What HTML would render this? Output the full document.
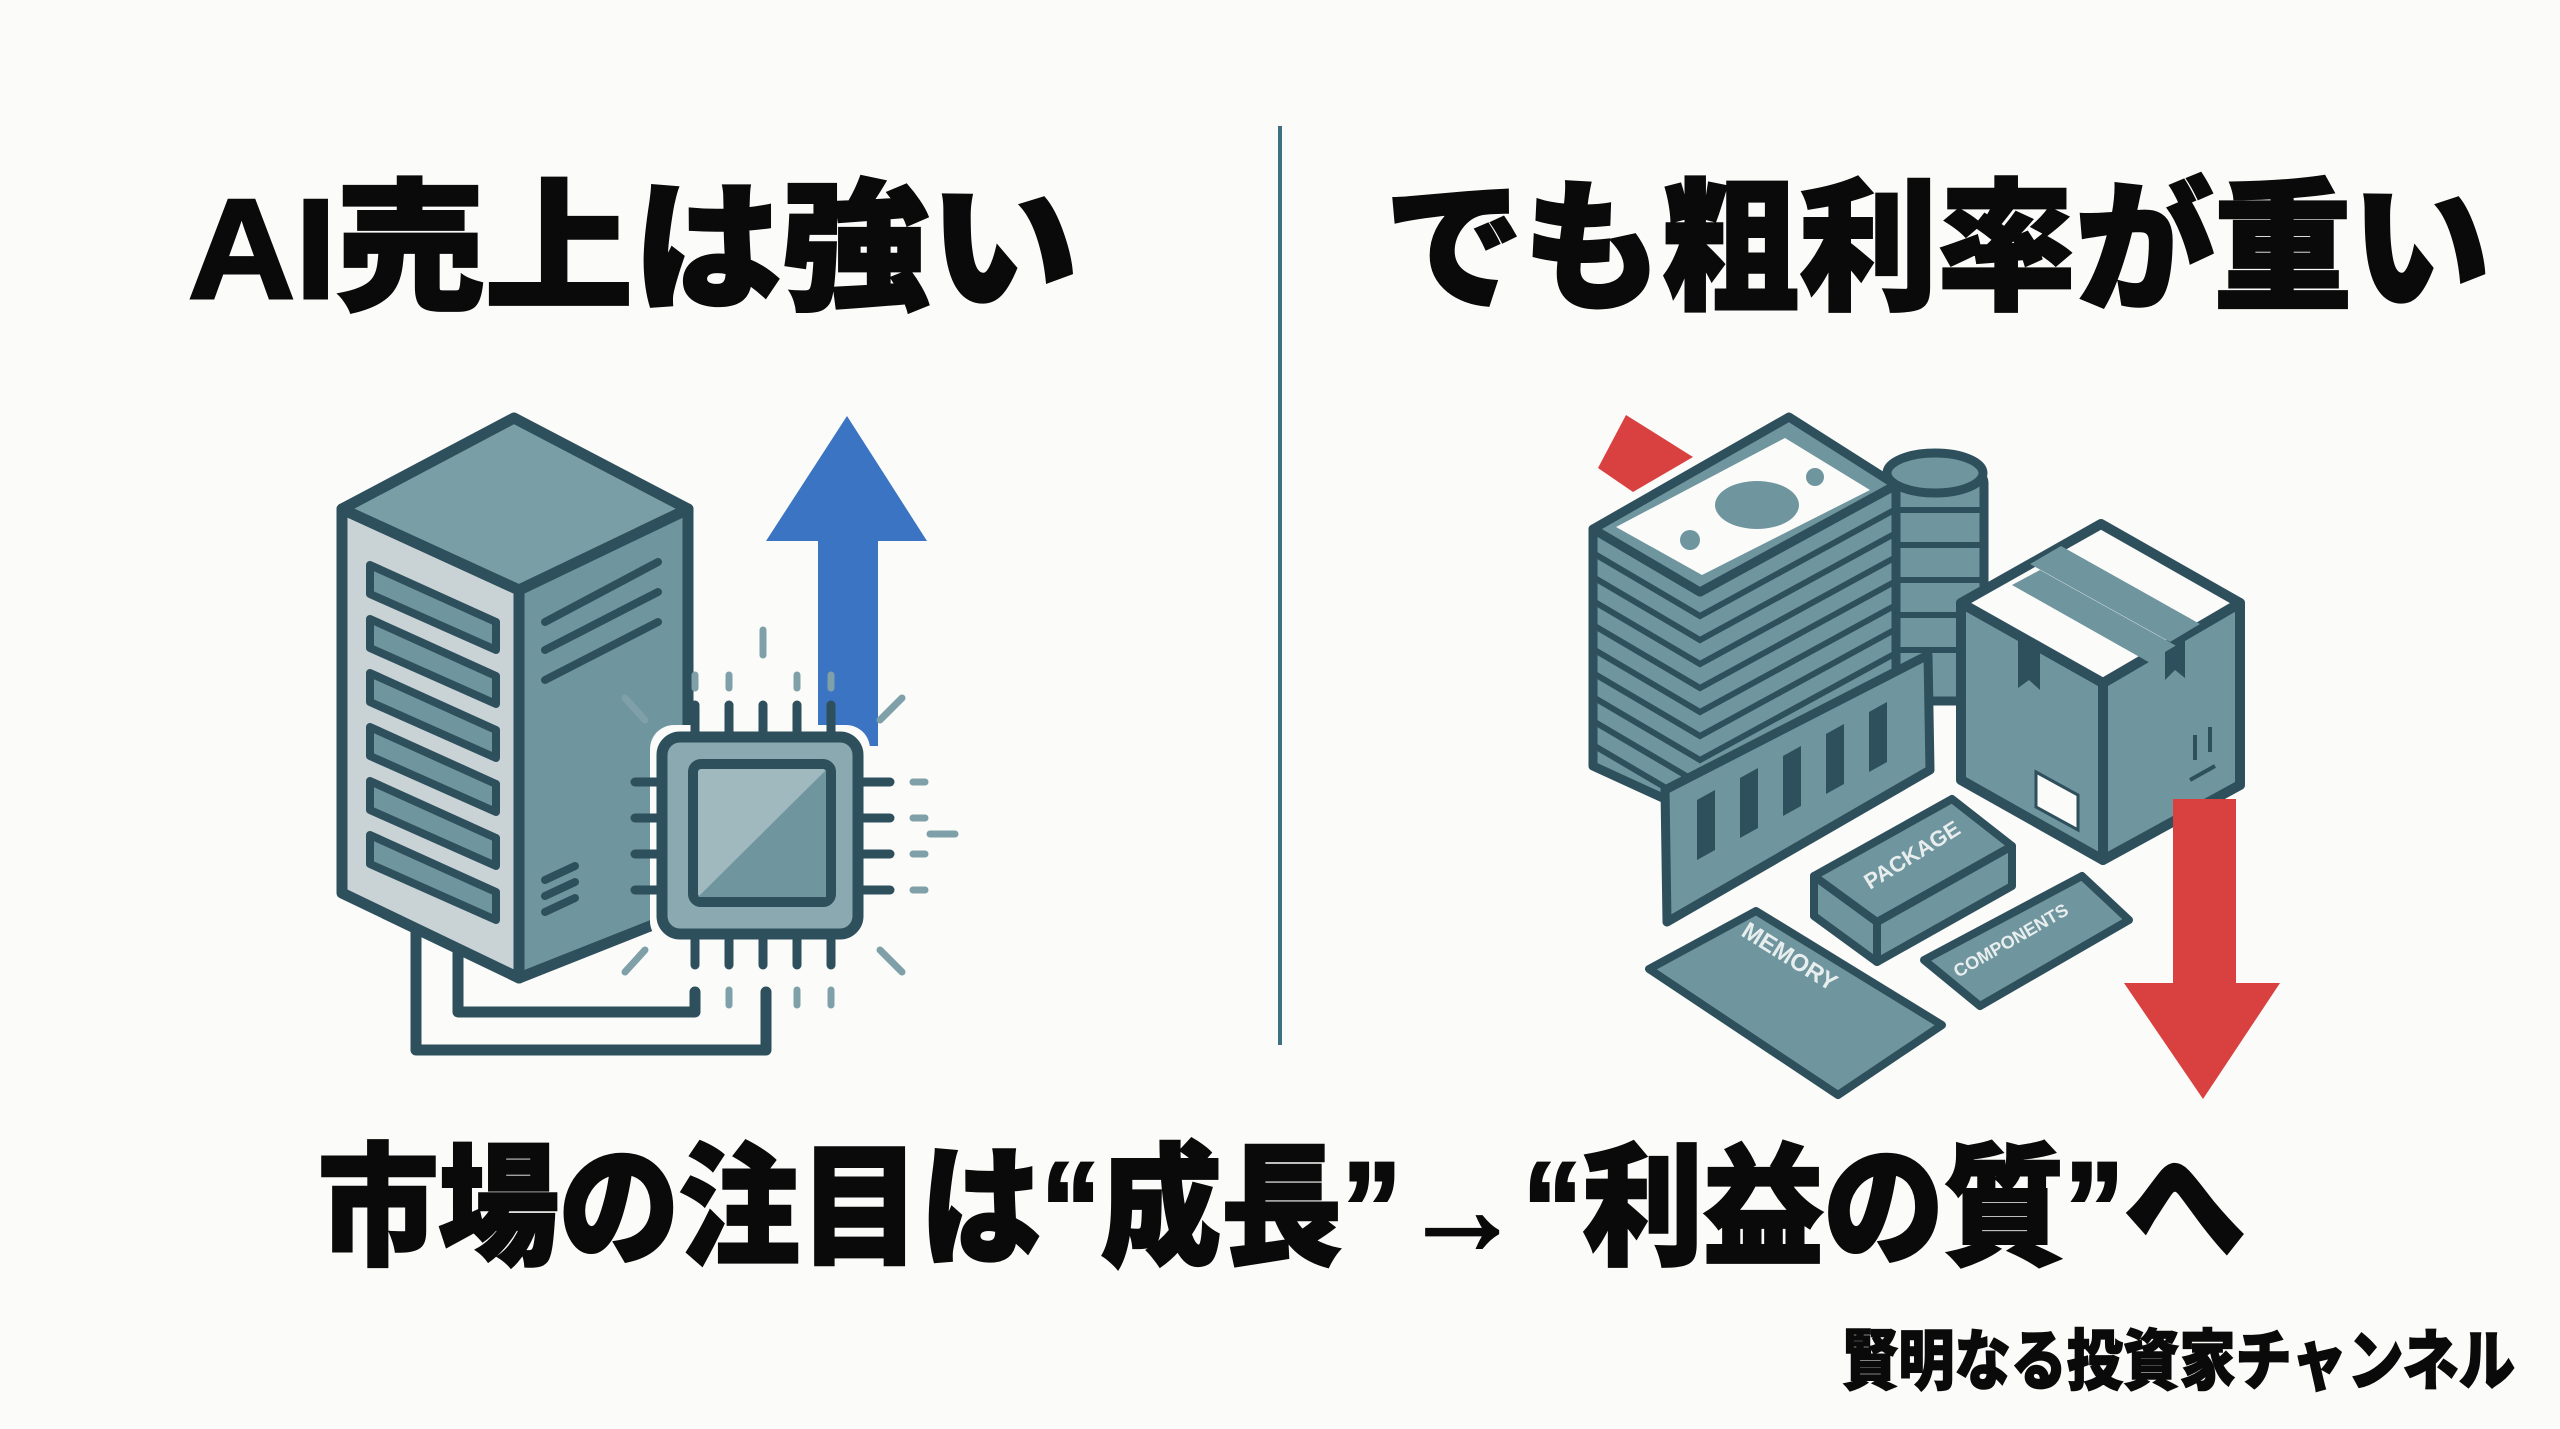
<!DOCTYPE html>
<html><head><meta charset="utf-8"><style>
html,body{margin:0;padding:0;background:#fbfbf9;}
svg{display:block}
text{font-family:"Liberation Sans","Noto Sans CJK JP",sans-serif;font-weight:900;fill:#0a0a0a}
.h{stroke:#0a0a0a;stroke-width:3}
</style></head><body>
<svg width="2560" height="1429" viewBox="0 0 2560 1429" xmlns="http://www.w3.org/2000/svg">
<rect width="2560" height="1429" fill="#fbfbf9"/>
<text class="h" x="188" y="298" font-size="142" textLength="890" lengthAdjust="spacingAndGlyphs">AI売上は強い</text>
<text class="h" x="1385" y="298" font-size="142" textLength="1105" lengthAdjust="spacingAndGlyphs">でも粗利率が重い</text>
<line x1="1280" y1="126" x2="1280" y2="1045" stroke="#3f6f80" stroke-width="4"/>
<text class="h" x="318" y="1254" font-size="132" textLength="1927" lengthAdjust="spacingAndGlyphs">市場の注目は“成長”→“利益の質”へ</text>
<text class="h" style="stroke-width:1.5" x="1842" y="1384" font-size="66" textLength="673" lengthAdjust="spacingAndGlyphs">賢明なる投資家チャンネル</text>

<!-- LEFT: server -->
<g stroke="#2e4f5c" stroke-width="11" stroke-linejoin="round" stroke-linecap="round">
 <polyline points="416,933 416,1050 766,1050 766,992" fill="none"/>
 <polyline points="458,920 458,1012 695,1012 695,992" fill="none"/>
 <polygon points="342,509 519,590 519,978 342,893" fill="#c9d3d6"/>
 <polygon points="519,590 688,509 688,911 519,978" fill="#6f959e"/>
 <polygon points="514,418 688,509 519,590 342,509" fill="#7a9ea6"/>
</g>
<g stroke="#2e4f5c" stroke-width="8" stroke-linejoin="round" fill="#6f959e">
 <polygon points="370,565 496,622 496,650 370,594"/>
 <polygon points="370,619 496,676 496,704 370,648"/>
 <polygon points="370,673 496,730 496,758 370,702"/>
 <polygon points="370,727 496,784 496,812 370,756"/>
 <polygon points="370,781 496,838 496,866 370,810"/>
 <polygon points="370,835 496,892 496,920 370,864"/>
</g>
<g stroke="#2e4f5c" stroke-width="8" stroke-linecap="round">
 <line x1="545" y1="622" x2="658" y2="562"/><line x1="545" y1="650" x2="658" y2="592"/><line x1="545" y1="680" x2="658" y2="622"/>
 <line x1="545" y1="880" x2="575" y2="866"/><line x1="545" y1="896" x2="575" y2="882"/><line x1="545" y1="912" x2="575" y2="898"/>
</g>
<!-- blue arrow -->
<polygon points="847,416 927,541 878,541 878,746 818,746 818,541 766,541" fill="#3b74c2"/>
<!-- chip -->
<rect x="650" y="725" width="220" height="220" rx="24" fill="#fbfbf9"/>
<g stroke="#2e4f5c" stroke-width="9" stroke-linecap="round">
 <line x1="695" y1="705" x2="695" y2="740"/><line x1="729" y1="705" x2="729" y2="740"/><line x1="763" y1="705" x2="763" y2="740"/><line x1="797" y1="705" x2="797" y2="740"/><line x1="831" y1="705" x2="831" y2="740"/>
 <line x1="695" y1="930" x2="695" y2="965"/><line x1="729" y1="930" x2="729" y2="965"/><line x1="763" y1="930" x2="763" y2="965"/><line x1="797" y1="930" x2="797" y2="965"/><line x1="831" y1="930" x2="831" y2="965"/>
 <line x1="635" y1="782" x2="665" y2="782"/><line x1="635" y1="818" x2="665" y2="818"/><line x1="635" y1="854" x2="665" y2="854"/><line x1="635" y1="890" x2="665" y2="890"/>
 <line x1="855" y1="782" x2="890" y2="782"/><line x1="855" y1="818" x2="890" y2="818"/><line x1="855" y1="854" x2="890" y2="854"/><line x1="855" y1="890" x2="890" y2="890"/>
</g>
<g stroke="#7fa0a8" stroke-width="7" stroke-linecap="round">
 <line x1="763" y1="630" x2="763" y2="655"/><line x1="695" y1="675" x2="695" y2="688"/><line x1="729" y1="675" x2="729" y2="688"/><line x1="797" y1="675" x2="797" y2="688"/><line x1="831" y1="675" x2="831" y2="688"/>
 <line x1="729" y1="990" x2="729" y2="1005"/><line x1="797" y1="990" x2="797" y2="1005"/><line x1="831" y1="990" x2="831" y2="1005"/>
 <line x1="913" y1="782" x2="925" y2="782"/><line x1="913" y1="818" x2="925" y2="818"/><line x1="930" y1="834" x2="955" y2="834"/><line x1="913" y1="854" x2="925" y2="854"/><line x1="913" y1="890" x2="925" y2="890"/>
 <line x1="625" y1="698" x2="645" y2="720"/><line x1="880" y1="720" x2="902" y2="698"/><line x1="625" y1="972" x2="645" y2="950"/><line x1="880" y1="950" x2="902" y2="972"/>
</g>
<rect x="662" y="737" width="196" height="197" rx="18" fill="#8aa9b0" stroke="#2e4f5c" stroke-width="11"/>
<rect x="693" y="764" width="138" height="138" rx="8" fill="#9fb9be" stroke="#2e4f5c" stroke-width="10"/>
<polygon points="826,770 826,897 698,897" fill="#6f959e"/>

<!-- RIGHT -->
<polygon points="1626,415 1693,457 1633,492 1598,468" fill="#d94141"/>
<!-- coins -->
<g stroke="#2e4f5c" stroke-width="9" fill="#6f959e">
 <rect x="1887" y="473" width="97" height="228" rx="10"/>
 <ellipse cx="1935" cy="473" rx="48" ry="20"/>
</g>
<g stroke="#2e4f5c" stroke-width="6"><line x1="1890" y1="510" x2="1982" y2="510"/><line x1="1890" y1="545" x2="1982" y2="545"/><line x1="1890" y1="580" x2="1982" y2="580"/><line x1="1890" y1="615" x2="1982" y2="615"/><line x1="1890" y1="650" x2="1982" y2="650"/></g>
<!-- money stack -->
<g stroke="#2e4f5c" stroke-width="9" stroke-linejoin="round">
 <polygon points="1593,529 1700,592 1896,485 1896,700 1700,815 1593,766" fill="#6f959e"/>
 <polygon points="1789,417 1896,485 1700,592 1593,529" fill="#6f959e"/>
 <polygon points="1785,438 1870,490 1702,575 1616,527" fill="#fbfbf9" stroke-width="0"/>
</g>
<ellipse cx="1757" cy="505" rx="42" ry="24" fill="#6f959e"/>
<circle cx="1690" cy="540" r="10" fill="#6f959e"/><circle cx="1815" cy="477" r="9" fill="#6f959e"/>
<g stroke="#2e4f5c" stroke-width="6" fill="none">
 <polyline points="1593,553 1700,616 1896,509"/><polyline points="1593,577 1700,640 1896,533"/><polyline points="1593,601 1700,664 1896,557"/><polyline points="1593,625 1700,688 1896,581"/><polyline points="1593,649 1700,712 1896,605"/><polyline points="1593,673 1700,736 1896,629"/><polyline points="1593,697 1700,760 1896,653"/><polyline points="1593,721 1700,784 1896,677"/><polyline points="1593,745 1700,808 1896,701"/>
</g>
<!-- box -->
<g stroke="#2e4f5c" stroke-width="10" stroke-linejoin="round">
 <polygon points="1961,603 2103,683 2103,860 1961,780" fill="#6f959e"/>
 <polygon points="2103,683 2240,603 2240,785 2103,860" fill="#6f959e"/>
 <polygon points="2101,524 2240,603 2103,683 1961,603" fill="#fbfbf9"/>
</g>
<polygon points="2030,564 2061,546 2200,624 2170,642" fill="#6f959e"/>
<polygon points="2012,585 2040,570 2180,648 2152,664" fill="#6f959e"/>
<polygon points="2018,640 2040,652 2040,690 2029,680 2018,688" fill="#2e4f5c"/>
<polygon points="2165,652 2185,640 2185,678 2175,670 2165,680" fill="#2e4f5c"/>
<polygon points="2036,772 2078,795 2078,830 2036,807" fill="#fbfbf9" stroke="#2e4f5c" stroke-width="3"/>
<g stroke="#2e4f5c" stroke-width="4"><line x1="2195" y1="760" x2="2195" y2="735"/><line x1="2210" y1="752" x2="2210" y2="727"/><line x1="2190" y1="780" x2="2215" y2="766"/></g>
<!-- RAM -->
<polygon points="1665,790 1928,655 1930,770 1667,922" fill="#6f959e" stroke="#2e4f5c" stroke-width="9" stroke-linejoin="round"/>
<g fill="#2e4f5c"><polygon points="1697,800 1715,790 1715,850 1697,860"/><polygon points="1740,778 1758,768 1758,828 1740,838"/><polygon points="1783,756 1801,746 1801,806 1783,816"/><polygon points="1826,734 1844,724 1844,784 1826,794"/><polygon points="1869,712 1887,702 1887,762 1869,772"/></g>
<!-- package -->
<g stroke="#2e4f5c" stroke-width="8" stroke-linejoin="round" fill="#6f959e">
 <polygon points="1814,876 1877,922 1877,962 1814,916"/>
 <polygon points="1877,922 2012,846 2012,886 1877,962"/>
 <polygon points="1814,876 1952,799 2012,846 1877,922"/>
</g>
<text x="1870" y="890" font-size="22" style="fill:#e8eeee" transform="rotate(-32 1870 890)">PACKAGE</text>
<!-- memory -->
<polygon points="1649,969 1756,911 1942,1025 1838,1095" fill="#6f959e" stroke="#2e4f5c" stroke-width="8" stroke-linejoin="round"/>
<text x="1740" y="935" font-size="24" style="fill:#e8eeee" transform="rotate(32 1740 935)">MEMORY</text>
<!-- components -->
<polygon points="1924,960 2082,876 2129,920 1980,1006" fill="#6f959e" stroke="#2e4f5c" stroke-width="8" stroke-linejoin="round"/>
<text x="1958" y="978" font-size="18" style="fill:#e8eeee" transform="rotate(-30 1958 978)">COMPONENTS</text>
<!-- red arrow -->
<polygon points="2173,799 2236,799 2236,983 2280,983 2203,1099 2124,983 2173,983" fill="#d94141"/>
</svg>
</body></html>
